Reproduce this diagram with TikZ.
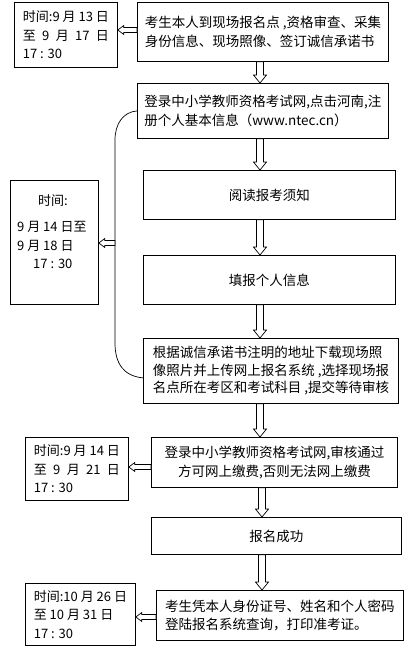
\documentclass[tikz,border=0pt]{standalone}
\usepackage{fontspec}
\setmainfont{Noto Sans CJK SC}
\usetikzlibrary{calc}
\newcommand\mydarrow[3]{%
  \draw[barrow] let \p1=(#1.south), \p2=(#2.north) in
    (#3pt-3.5pt,\y1) -- (#3pt+3.5pt,\y1) -- (#3pt+3.5pt,\y2+8pt) -- (#3pt+6.5pt,\y2+8pt)
    -- (#3pt,\y2) -- (#3pt-6.5pt,\y2+8pt) -- (#3pt-3.5pt,\y2+8pt) -- cycle;}
\newcommand\mylarrow[3]{%
  \draw[barrow] let \p1=#1, \p2=#2 in
    (\x1,{-#3pt+2.5pt}) -- (\x2+6pt,{-#3pt+2.5pt}) -- (\x2+6pt,{-#3pt+4.5pt})
    -- (\x2,{-#3pt}) -- (\x2+6pt,{-#3pt-4.5pt}) -- (\x2+6pt,{-#3pt-2.5pt})
    -- (\x1,{-#3pt-2.5pt}) -- cycle;}
\begin{document}
\begin{tikzpicture}[x=1pt,y=-1pt,
  box/.style={draw, line width=0.8pt, inner sep=0pt, anchor=north west,
    font=\fontsize{13.5}{19.5}\selectfont},
  lbox/.style={draw, line width=0.8pt, inner sep=0pt, anchor=north west, align=left,
    font=\fontsize{13}{18.5}\selectfont},
  ltext/.style={inner sep=0pt, anchor=north west, align=left,
    font=\fontsize{13}{18.5}\selectfont},
  barrow/.style={draw, line width=0.7pt, fill=white, line join=miter}]
\useasboundingbox (0,0) rectangle (411,649);

% main column
\node[box, minimum width=251, minimum height=59, align=left] (b1) at (137,2)
  {考生本人到现场报名点 ,资格审查、采集\\身份信息、现场照像、签订诚信承诺书};
\node[box, minimum width=251, minimum height=55, align=left] (b2) at (137,83)
  {登录中小学教师资格考试网,点击河南,注\\册个人基本信息（www.ntec.cn）};
\node[box, minimum width=252, minimum height=49] (b3) at (143,170) {阅读报考须知};
\node[box, minimum width=252, minimum height=49] (b4) at (143,255) {填报个人信息};
\node[box, minimum width=255, minimum height=65, align=left,
  font=\fontsize{13.5}{17.5}\selectfont] (b5) at (143,338)
  {根据诚信承诺书注明的地址下载现场照\\像照片并上传网上报名系统 ,选择现场报\\名点所在考区和考试科目 ,提交等待审核};
\node[box, minimum width=246, minimum height=50, align=center,
  font=\fontsize{13.5}{19}\selectfont] (b6) at (151,437)
  {登录中小学教师资格考试网,审核通过\\方可网上缴费,否则无法网上缴费};
\node[box, minimum width=250, minimum height=37] (b7) at (151,517) {报名成功};
\node[box, minimum width=247, minimum height=50, align=left,
  font=\fontsize{13.5}{18.5}\selectfont] (b8) at (156,590)
  {考生凭本人身份证号、姓名和个人密码\\登陆报名系统查询，打印准考证。};

% time boxes
\node[lbox, minimum width=103, minimum height=65] (L1) at (14,2)
  {时间:9 月 13 日\\\hbox to 86pt{至\hfill 9\hfill 月\hfill 17\hfill 日}\\17 : 30};
\node[lbox, minimum width=88, minimum height=124] (L2) at (10,180) {};
\node[ltext] (L2t) at (17,194)
  {\hspace*{21pt}时间:\\[8pt]9 月 14 日至\\9 月 18 日\\\hspace*{16pt}17 : 30};
\node[lbox, minimum width=103, minimum height=63] (L3) at (25,437)
  {时间:9 月 14 日\\\hbox to 86pt{至\hfill 9\hfill 月\hfill 21\hfill 日}\\17 : 30};
\node[lbox, minimum width=110, minimum height=62] (L4) at (25,583)
  {时间:10 月 26 日\\至 10 月 31 日\\17 : 30};

% down arrows
\mydarrow{b1}{b2}{260}
\mydarrow{b2}{b3}{260}
\mydarrow{b3}{b4}{260}
\mydarrow{b4}{b5}{260}
\mydarrow{b5}{b6}{260}
\mydarrow{b6}{b7}{262}
\mydarrow{b7}{b8}{262}

% bracket
\coordinate (bA) at (115,140);
\coordinate (brk) at (115,243);
\coordinate (bB) at (115,343);
\draw[line width=0.7pt] (b2.west) .. controls (123,112) and (115,124) .. (bA) -- (bB)
  .. controls (115,364) and (124,376) .. ($(b5.west)+(0,7)$);

% left arrows
\mylarrow{(b1.west)}{(L1.east)}{30}
\mylarrow{(brk)}{(L2.east)}{243}
\mylarrow{(b6.west)}{(L3.east)}{467}
\mylarrow{(b8.west)}{(L4.east)}{617}
\end{tikzpicture}
\end{document}
